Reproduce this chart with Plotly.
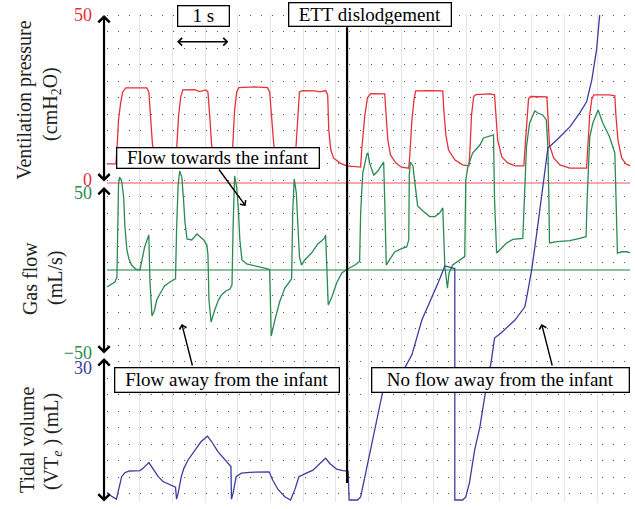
import plotly.graph_objects as go

# ---------------- recorded signals (time in s) ----------------
time_pressure = [0.0, 0.17, 0.19, 0.22, 0.26, 0.30, 0.36, 0.63, 0.76, 0.80, 0.84, 0.87, 0.93, 1.01, 1.16, 1.31,
                 1.33, 1.37, 1.41, 1.45, 1.68, 1.77, 1.89, 1.93, 1.97, 2.00, 2.06, 2.16, 2.31, 2.39,
                 2.40, 2.44, 2.48, 2.52, 2.82, 3.07, 3.11, 3.15, 3.19, 3.24, 3.36, 3.53, 3.59,
                 3.61, 3.65, 3.68, 3.74, 3.97, 4.07, 4.18, 4.22, 4.24, 4.28, 4.33, 4.45, 4.58, 4.85,
                 4.87, 4.93, 4.98, 5.04, 5.21, 5.31, 5.33, 5.37, 5.42, 5.52, 5.63, 5.77,
                 5.79, 5.83, 5.87, 5.90, 6.17, 6.42, 6.44, 6.48, 6.53, 6.65, 6.80, 6.92,
                 6.94, 6.97, 7.01, 7.05, 7.32, 7.41, 7.43, 7.47, 7.55, 7.66, 7.81, 7.97,
                 7.99, 8.03, 8.06, 8.10, 8.37, 8.41, 8.43, 8.46, 8.54, 8.66, 8.85, 9.17,
                 9.19, 9.23, 9.27, 9.31, 9.61, 9.71, 9.73, 9.77, 9.84, 9.92, 10.0]
pressure = [5.8, 5.8, 10.0, 19.1, 24.2, 27.6, 28.8, 28.9, 28.8, 27.6, 19.1, 11.5, 7.9, 6.4, 5.8, 5.5,
            10.0, 20.6, 26.1, 28.2, 28.3, 27.7, 28.2, 27.6, 19.1, 11.5, 7.9, 6.1, 5.5, 5.5,
            10.0, 22.1, 27.6, 28.9, 29.1, 28.9, 27.6, 19.1, 11.5, 7.9, 6.1, 5.5, 5.5,
            10.0, 22.1, 27.6, 28.0, 27.9, 27.6, 28.0, 26.7, 16.1, 10.0, 7.6, 6.1, 5.2, 4.8,
            10.0, 20.6, 25.8, 27.1, 27.1, 27.0, 22.1, 13.0, 8.5, 6.1, 4.8, 4.5,
            8.5, 19.1, 25.2, 27.9, 28.0, 27.9, 22.1, 14.5, 10.0, 7.0, 5.5, 5.2,
            10.0, 20.6, 26.1, 26.8, 27.0, 26.7, 22.1, 13.0, 7.9, 6.1, 5.2, 5.2,
            10.0, 20.6, 25.5, 26.2, 26.2, 26.1, 20.6, 11.5, 7.6, 5.5, 4.5, 4.5,
            10.0, 20.6, 25.5, 26.7, 26.7, 26.4, 20.6, 13.0, 7.6, 5.8, 5.2]

time_flow = [0.0, 0.15, 0.19, 0.20, 0.22, 0.24, 0.28, 0.32, 0.34, 0.38, 0.42, 0.47, 0.55, 0.63,
             0.68, 0.72, 0.76, 0.80, 0.82, 0.84, 0.86, 0.91, 0.95, 1.01, 1.10, 1.20, 1.31,
             1.33, 1.36, 1.39, 1.43, 1.46, 1.49, 1.53, 1.62, 1.72, 1.79, 1.85, 1.91, 1.93,
             1.95, 1.99, 2.06, 2.13, 2.19, 2.27, 2.35, 2.39, 2.41, 2.44, 2.48, 2.51, 2.54, 2.58,
             2.67, 2.86, 3.05, 3.11, 3.13, 3.14, 3.21, 3.30, 3.40, 3.49, 3.53, 3.55, 3.58,
             3.62, 3.65, 3.68, 3.72, 3.78, 3.91, 4.03, 4.11, 4.16, 4.18, 4.20, 4.23,
             4.30, 4.39, 4.49, 4.60, 4.74, 4.83, 4.85, 4.89, 4.97, 4.99, 5.02, 5.10, 5.18, 5.25, 5.29,
             5.31, 5.34, 5.40, 5.50, 5.63, 5.73, 5.77, 5.78, 5.80, 5.85, 5.88, 5.94, 6.04, 6.17, 6.27, 6.36, 6.42,
             6.44, 6.46, 6.51, 6.54, 6.61, 6.74, 6.84, 6.86, 6.90, 6.99, 7.13, 7.20, 7.28, 7.39,
             7.41, 7.45, 7.51, 7.64, 7.76, 7.95, 7.98, 8.02, 8.08, 8.18, 8.24, 8.33, 8.40, 8.43,
             8.45, 8.46, 8.60, 8.85, 9.04, 9.16, 9.18, 9.23, 9.29, 9.39, 9.48, 9.61, 9.71,
             9.74, 9.76, 9.84, 9.94, 10.0]
flow = [-10.6, -7.5, -4.4, 25.0, 53.1, 58.1, 55.6, 45.0, 28.1, 12.5, 6.9, 3.1, 0.6, 0.0,
        8.8, 14.4, 18.1, 21.9, -6.3, -18.8, -28.8, -25.0, -18.8, -15.0, -10.0, -7.5, -5.6,
        25.0, 53.1, 61.9, 58.1, 45.6, 30.0, 19.4, 18.8, 22.5, 20.6, 18.8, 15.6, 9.4,
        -18.8, -32.5, -25.0, -18.8, -15.6, -13.1, -11.9, -9.4, 25.0, 58.8, 51.3, 39.4, 18.8, 6.3,
        3.8, 2.5, 0.9, 0.3, -18.8, -41.3, -31.3, -20.0, -11.3, -6.9, -5.6, 35.6, 56.9,
        48.1, 25.0, 8.1, 3.1, 6.3, 10.6, 16.3, 18.4, 20.0, 21.9, 1.9, -21.9,
        -16.9, -8.1, -1.9, 0.6, 3.1, 5.3, 35.6, 60.6, 72.5, 73.1, 66.9, 59.4, 61.9, 65.6, 67.5,
        43.8, 3.1, 6.3, 11.3, 13.4, 14.4, 18.8, 59.4, 67.5, 65.0, 56.3, 40.0, 36.9, 33.4, 33.4, 35.6, 38.8,
        12.5, 1.9, -11.3, -1.9, 3.1, 6.3, 8.4, 56.3, 64.4, 73.1, 78.1, 82.5, 83.4, 84.4,
        43.8, 10.6, 12.5, 16.9, 19.1, 19.7, 43.8, 76.9, 91.9, 99.4, 98.1, 96.9, 93.8, 76.9,
        43.8, 16.9, 17.7, 18.3, 19.8, 20.8, 43.8, 83.1, 91.9, 100.0, 91.9, 83.1, 73.1,
        43.8, 10.6, 11.4, 11.4, 10.9]

time_volume = [0.0, 0.08, 0.18, 0.28, 0.34, 0.43, 0.63, 0.69, 0.80, 0.88, 0.98, 1.07, 1.20, 1.31,
               1.33, 1.36, 1.42, 1.47, 1.55, 1.68, 1.80, 1.92, 2.00, 2.12, 2.25, 2.37,
               2.38, 2.41, 2.47, 2.57, 2.73, 2.92, 3.10, 3.17, 3.27, 3.40, 3.51,
               3.59, 3.67, 3.81, 3.94, 4.07, 4.18, 4.26, 4.39, 4.51, 4.61,
               4.63, 4.79, 4.85, 5.27, 5.69, 5.83, 6.02, 6.17, 6.33, 6.46, 6.65,
               6.65, 6.80, 6.86, 6.93, 7.03, 7.13, 7.22, 7.35, 7.41, 7.54, 7.80, 7.99,
               8.04, 8.12, 8.22, 8.31, 8.37, 8.43, 8.60, 8.85, 9.04, 9.17, 9.27, 9.36, 9.42]
volume = [1.7, 0.9, 0.2, 5.3, 6.2, 6.6, 6.7, 7.2, 8.5, 7.0, 5.3, 4.2, 3.4, 2.9,
          0.2, 1.5, 5.3, 7.2, 9.1, 11.4, 13.3, 14.5, 13.3, 11.0, 9.1, 7.6,
          0.2, 1.5, 5.3, 6.1, 6.3, 6.4, 6.4, 4.5, 2.4, 0.75, 0.0,
          2.3, 5.3, 6.1, 6.8, 8.3, 9.5, 8.3, 7.0, 6.7, 6.6,
          0.0, 0.0, 0.7, 24.5, 30.0, 33.0, 40.9, 44.8, 49.3, 53.2, 52.6,
          0.0, 0.0, 0.7, 3.9, 11.4, 16.6, 23.4, 31.8, 36.8, 38.0, 40.9, 43.9,
          47.0, 52.3, 60.9, 69.3, 75.0, 80.0, 81.8, 84.8, 88.0, 90.5, 95.5, 102.3, 110.2]

ETT_TIME = 4.59          # s, endotracheal tube dislodged
pressure_ticks = [0, 50]
flow_ticks = [-50, 50]
flow_tick_text = ["\u221250", "50"]
volume_ticks = [0, 30]
grid_rows = [0.9 + 5 * k for k in range(-20, 11)]   # cmH2O positions of the dotted rows

RED = "#e8303a"
GREEN = "#2b8a52"
BLUE = "#3c3ca0"
FONT = "Liberation Serif"

fig = go.Figure()

# baselines of the two upper channels
fig.add_trace(go.Scatter(x=[0, 10], y=[0, 0], mode="lines", yaxis="y",
                         line=dict(color="rgba(232,48,58,0.55)", width=1.5), hoverinfo="skip"))
fig.add_trace(go.Scatter(x=[0, 10], y=[0, 0], mode="lines", yaxis="y2",
                         line=dict(color="rgba(43,138,82,0.55)", width=2), hoverinfo="skip"))

fig.add_trace(go.Scatter(x=time_pressure, y=pressure, mode="lines", yaxis="y",
                         line=dict(color=RED, width=1.3)))
fig.add_trace(go.Scatter(x=time_flow, y=flow, mode="lines", yaxis="y2",
                         line=dict(color=GREEN, width=1.3)))
fig.add_trace(go.Scatter(x=time_volume, y=volume, mode="lines", yaxis="y3",
                         line=dict(color=BLUE, width=1.3)))

tick_common = dict(showline=False, zeroline=False, ticks="", ticklabelstandoff=14)

fig.update_layout(
    width=635, height=509,
    margin=dict(l=107, r=5, t=14, b=7),
    paper_bgcolor="white", plot_bgcolor="white",
    showlegend=False,
    font=dict(family=FONT, size=18, color="#222"),
    xaxis=dict(range=[0, 10], showticklabels=False, ticks="", zeroline=False, showline=False,
               tick0=0, dtick=0.625, showgrid=True, gridcolor="#e6e6e6", gridwidth=1),
    yaxis=dict(range=[-96.67, 51.21], tickmode="array", tickvals=pressure_ticks,
               tickfont=dict(color=RED, size=18, family=FONT), showgrid=False,
               ticklabelshift=-3,
               minor=dict(tickmode="array", tickvals=grid_rows, showgrid=True,
                          gridcolor="#555", gridwidth=1.2, griddash="1px,10px", ticks=""),
               **tick_common),
    yaxis2=dict(range=[-145, 160], overlaying="y", tickmode="array", tickvals=flow_ticks,
                ticktext=flow_tick_text, tickfont=dict(color=GREEN, size=18, family=FONT),
                showgrid=False, ticklabelshift=3, **tick_common),
    yaxis3=dict(range=[-0.45, 110.45], overlaying="y", tickmode="array", tickvals=volume_ticks,
                tickfont=dict(color=BLUE, size=18, family=FONT), showgrid=False,
                **tick_common),
)

# tube dislodgement marker
fig.add_shape(type="line", xref="x", yref="paper", x0=ETT_TIME, x1=ETT_TIME, y0=0.039, y1=0.973,
              line=dict(color="black", width=2.2))

ann = []
# vertical scale arrows of the three channels
for y_tip, length in [(0.998, 168), (0.6455, 168), (0.295, 145)]:
    ann.append(dict(xref="paper", yref="paper", x=-0.0057, y=y_tip, ax=0, ay=length,
                    axref="pixel", ayref="pixel", text="", showarrow=True,
                    arrowside="end+start", arrowhead=4, startarrowhead=4,
                    arrowsize=1, startarrowsize=1, arrowwidth=2.2, arrowcolor="black",
                    standoff=0, startstandoff=0))

# channel titles
titles = [
    ("Ventilation pressure", -0.157, 0.824),
    ("(cmH<sub>2</sub>O)", -0.105, 0.816),
    ("Gas flow", -0.147, 0.457),
    ("(mL/s)", -0.0994, 0.459),
    ("Tidal volume", -0.153, 0.129),
    ("(VT<sub><i>e</i></sub> ) (mL)", -0.103, 0.123),
]
for txt, x, y in titles:
    ann.append(dict(text=txt, xref="paper", yref="paper", x=x, y=y, showarrow=False,
                    textangle=-90, xanchor="center", yanchor="middle",
                    font=dict(family=FONT, size=20, color="#222")))

box = dict(showarrow=False, bordercolor="black", borderwidth=1.3, bgcolor="white", borderpad=1,
           xanchor="center", yanchor="middle", xref="x", yref="paper")
boxes = [
    ("1 s", 1.85, 0.995, 48, 17),
    ("ETT dislodgement", 5.03, 0.998, 159, 20),
    ("Flow towards the infant", 2.13, 0.705, 199, 17),
    ("Flow away from the infant", 2.30, 0.251, 221, 21),
    ("No flow away from the infant", 7.53, 0.251, 254, 21),
]
for txt, x, y, w, h in boxes:
    ann.append(dict(text=txt, x=x, y=y, width=w, height=h,
                    font=dict(family=FONT, size=19, color="black"), **box))

# one second scale bar
ann.append(dict(xref="x", yref="paper", x=2.32, y=0.943, ax=1.31, axref="x", ay=0, ayref="pixel",
                text="", showarrow=True, arrowside="end+start", arrowhead=4, startarrowhead=4,
                arrowsize=1, startarrowsize=1, arrowwidth=1.5, arrowcolor="black",
                standoff=0, startstandoff=0))

# pointers from the labels to the flow trace
for tip, tail in [((2.65, 40), (2.12, 63.75)),
                  ((1.43, -33.75), (1.64, -60.6)),
                  ((8.31, -33.75), (8.52, -60.6))]:
    ann.append(dict(xref="x", yref="y2", x=tip[0], y=tip[1], axref="x", ayref="y2",
                    ax=tail[0], ay=tail[1], text="", showarrow=True, arrowhead=4,
                    arrowsize=1, arrowwidth=1.4, arrowcolor="black", standoff=0))

fig.update_layout(annotations=ann)
fig.write_html("out.html")
